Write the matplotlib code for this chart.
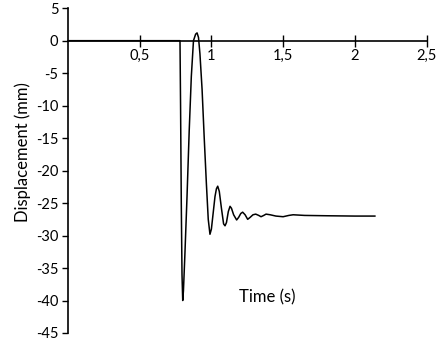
import matplotlib
matplotlib.use("Agg")
import matplotlib.pyplot as plt

time_s = [0.0, 0.78, 0.781, 0.785, 0.79, 0.795, 0.80, 0.805, 0.815, 0.83, 0.845,
          0.86, 0.875, 0.89, 0.90, 0.91, 0.92, 0.935, 0.95, 0.965, 0.978, 0.99,
          1.0, 1.01, 1.025, 1.035, 1.044, 1.055, 1.07, 1.085, 1.095, 1.105,
          1.118, 1.13, 1.14, 1.155, 1.176, 1.19, 1.205, 1.218, 1.235, 1.253,
          1.27, 1.29, 1.309, 1.33, 1.346, 1.365, 1.381, 1.41, 1.45, 1.50,
          1.54, 1.57, 1.65, 1.8, 2.0, 2.14]
displacement_mm = [0.0, 0.0, 0.0, -10.0, -25.0, -36.0, -40.0, -38.5, -33.0, -24.0, -14.0,
                   -5.5, 0.0, 1.0, 1.2, 0.5, -2.0, -7.5, -15.0, -22.0, -27.5, -29.8,
                   -29.0, -27.0, -24.0, -22.8, -22.4, -23.2, -25.8, -28.2, -28.5, -28.0,
                   -26.3, -25.5, -25.8, -26.8, -27.6, -27.2, -26.6, -26.4, -26.8, -27.5,
                   -27.2, -26.8, -26.7, -26.9, -27.1, -26.9, -26.7, -26.8, -27.0, -27.1,
                   -26.9, -26.8, -26.9, -26.95, -27.0, -27.0]

x_ticks = [0.5, 1.0, 1.5, 2.0, 2.5]
x_tick_labels = ["0,5", "1", "1,5", "2", "2,5"]
y_ticks = [5, 0, -5, -10, -15, -20, -25, -30, -35, -40, -45]

plt.rcParams['font.family'] = ['Lato', 'DejaVu Sans']

fig = plt.figure(figsize=(4.37, 3.48), dpi=100)
ax = fig.add_axes([68/437, 1-333/348, (426.5-68)/437, (333-8.2)/348])

ax.plot(time_s, displacement_mm, color='black', lw=1.1)

ax.set_xlim(0, 2.5)
ax.set_ylim(-45, 5)
ax.spines['top'].set_visible(False)
ax.spines['right'].set_visible(False)
ax.spines['bottom'].set_position(('data', 0))
ax.spines['bottom'].set_linewidth(1.2)
ax.spines['left'].set_linewidth(1.2)

ax.set_xticks(x_ticks)
ax.set_xticklabels(x_tick_labels)
ax.set_yticks(y_ticks)
ax.set_yticklabels([str(v) for v in y_ticks])
ax.tick_params(axis='x', direction='inout', length=8, width=1, labelsize=10.5, pad=2)
ax.tick_params(axis='y', direction='out', length=4, width=1, labelsize=10.5, pad=3)

fig.text(23/437, 1-152/348, "Displacement (mm)", fontsize=12, rotation=90,
         ha='center', va='center')
fig.text(267/437, 1-297/348, "Time (s)", fontsize=12, ha='center', va='center')

fig.savefig("out.png", dpi=100)
